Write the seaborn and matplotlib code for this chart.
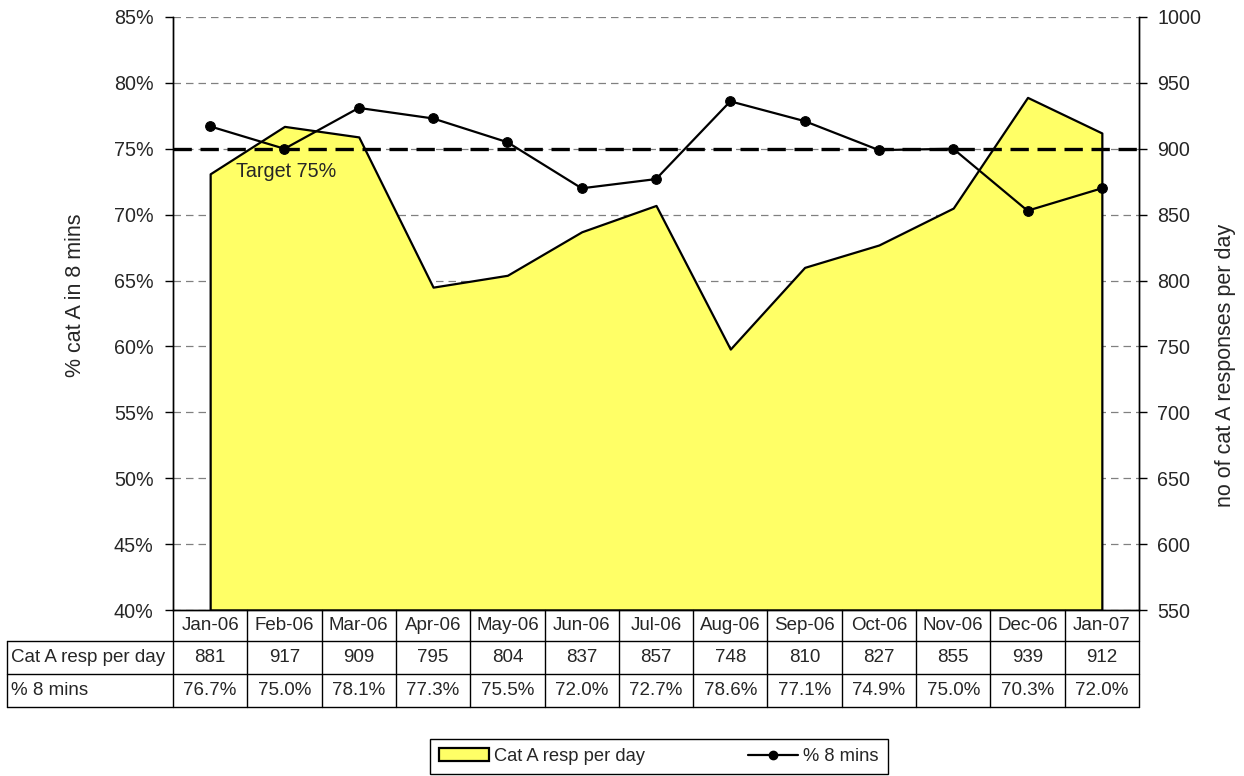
import matplotlib
matplotlib.use("Agg")
import matplotlib.pyplot as plt
import matplotlib.transforms as mtransforms
from matplotlib.patches import Patch
from matplotlib.lines import Line2D
from matplotlib.ticker import FuncFormatter, MultipleLocator
import seaborn as sns
import numpy as np

# ---------------- data ----------------
months = ["Jan-06", "Feb-06", "Mar-06", "Apr-06", "May-06", "Jun-06", "Jul-06",
          "Aug-06", "Sep-06", "Oct-06", "Nov-06", "Dec-06", "Jan-07"]
resp_per_day = [881, 917, 909, 795, 804, 837, 857, 748, 810, 827, 855, 939, 912]
pct_8_mins = [76.7, 75.0, 78.1, 77.3, 75.5, 72.0, 72.7, 78.6, 77.1, 74.9, 75.0, 70.3, 72.0]
target = 75.0
row_labels = ["Cat A resp per day", "% 8 mins"]

sns.set_style("white")
plt.rcParams["font.family"] = ["Liberation Sans", "DejaVu Sans"]

W, H = 1244, 776
fig = plt.figure(figsize=(W / 100, H / 100), dpi=100)
ax = fig.add_axes([173 / W, 166 / H, 966 / W, 593 / H])
ax2 = ax.twinx()

xs = np.arange(len(months))

# right axis: area
ax2.set_ylim(550, 1000)
ax2.yaxis.set_major_locator(MultipleLocator(50))
ax2.set_axisbelow(True)
ax2.yaxis.grid(True, color="#808080", linewidth=0.9, linestyle=(0, (6, 4)))
ax2.fill_between(xs, resp_per_day, 550, facecolor="#FFFF66", edgecolor="black",
                 linewidth=1.6, zorder=2)

# left axis on top
ax.set_zorder(ax2.get_zorder() + 1)
ax.patch.set_visible(False)
ax2.patch.set_visible(True)
ax2.patch.set_facecolor("white")

ax.set_xlim(-0.5, len(months) - 0.5)
ax.set_ylim(40, 85)
ax.yaxis.set_major_locator(MultipleLocator(5))
ax.yaxis.set_major_formatter(FuncFormatter(lambda v, p: f"{v:.0f}%"))
ax.set_xticks([])

ax.axhline(target, color="black", linewidth=2.4, linestyle=(0, (5.5, 2.6)), zorder=3)
sns.lineplot(x=xs, y=pct_8_mins, ax=ax, color="black", linewidth=1.6, marker="o",
             markersize=7, markeredgecolor="black", zorder=4, legend=False)
ax.text(0.35, 73.3, "Target 75%", fontsize=14.2, ha="left", va="center", zorder=5)

# axes styling
for a in (ax, ax2):
    a.spines["top"].set_visible(False)
    for s in ("left", "right", "bottom"):
        a.spines[s].set_color("black")
        a.spines[s].set_linewidth(1.0)
ax.tick_params(axis="y", which="major", left=True, length=6, width=1, pad=8,
               labelsize=14.2, color="black")
ax2.tick_params(axis="y", which="major", right=True, length=6, width=1, pad=7,
                labelsize=14.2, color="black")
ax.set_ylabel("% cat A in 8 mins", fontsize=15.5)
ax2.set_ylabel("no of cat A responses per day", fontsize=15.5, rotation=90)
ax.yaxis.set_label_coords(-0.090, 0.53)
ax2.yaxis.set_label_coords(1.079, 0.413)
ax.set_xlabel("")

# ---------------- data table ----------------
trans = mtransforms.blended_transform_factory(ax.transData, ax.transAxes)
axh = 593.0
y_hdr = -31 / axh
y_r1 = -64 / axh
y_r2 = -97 / axh
x_lab_left = (7 - 173) / 966.0
n = len(months)
lw_t = 1.0
for i in range(n + 1):
    ax.add_line(Line2D([i - 0.5, i - 0.5], [0, y_r2], transform=trans, color="black",
                       lw=lw_t, clip_on=False))
for yy in (y_hdr, y_r1, y_r2):
    ax.add_line(Line2D([x_lab_left, 1.0], [yy, yy], transform=ax.transAxes,
                       color="black", lw=lw_t, clip_on=False))
ax.add_line(Line2D([x_lab_left, x_lab_left], [y_hdr, y_r2], transform=ax.transAxes,
                   color="black", lw=lw_t, clip_on=False))

fs_t = 13.5
for i, m in enumerate(months):
    ax.text(i, y_hdr / 2, m, transform=trans, ha="center", va="center", fontsize=fs_t)
    ax.text(i, (y_hdr + y_r1) / 2, f"{resp_per_day[i]}", transform=trans,
            ha="center", va="center", fontsize=fs_t)
    ax.text(i, (y_r1 + y_r2) / 2, f"{pct_8_mins[i]:.1f}%", transform=trans,
            ha="center", va="center", fontsize=fs_t)
ax.text(x_lab_left + 0.004, (y_hdr + y_r1) / 2, row_labels[0], transform=ax.transAxes,
        ha="left", va="center", fontsize=fs_t)
ax.text(x_lab_left + 0.004, (y_r1 + y_r2) / 2, row_labels[1], transform=ax.transAxes,
        ha="left", va="center", fontsize=fs_t)

# ---------------- legend ----------------
handles = [Patch(facecolor="#FFFF66", edgecolor="black", linewidth=1.6),
           Line2D([], [], color="black", marker="o", markersize=6, linewidth=1.6)]
leg = fig.legend(handles, row_labels, loc="center", ncol=2,
                 bbox_to_anchor=(659 / W, 1 - 756.5 / H), fontsize=13.2,
                 frameon=True, fancybox=False, framealpha=1, edgecolor="black",
                 handlelength=2.7, handleheight=0.7, handletextpad=0.3,
                 columnspacing=5.6, borderpad=0.5)
leg.get_frame().set_linewidth(1.0)

fig.savefig("out.png", dpi=100)
